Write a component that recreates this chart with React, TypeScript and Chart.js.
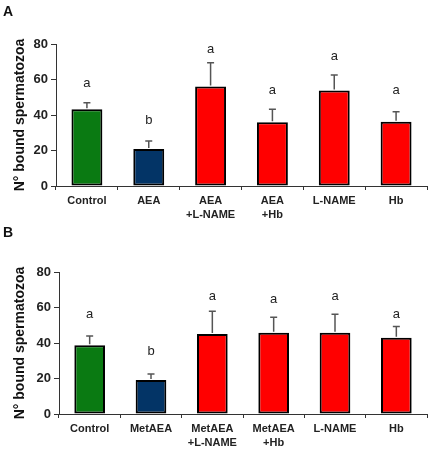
import React, { useEffect, useRef } from "react";
import { Chart, registerables } from "chart.js";

Chart.register(...registerables);

const categoriesA: (string | string[])[] = ["Control", "AEA", ["AEA", "+L-NAME"], ["AEA", "+Hb"], "L-NAME", "Hb"];
const valuesA = [43.3, 20.9, 56.0, 35.9, 53.8, 36.2];
const errorsA = [46.9, 25.4, 69.5, 43.2, 62.6, 41.9];
const lettersA = ["a", "b", "a", "a", "a", "a"];
const letterYA = [58, 37, 77, 54, 73, 54];

const categoriesB: (string | string[])[] = ["Control", "MetAEA", ["MetAEA", "+L-NAME"], ["MetAEA", "+Hb"], "L-NAME", "Hb"];
const valuesB = [38.8, 19.1, 45.1, 45.8, 45.8, 43.0];
const errorsB = [44.0, 22.5, 57.9, 54.5, 56.2, 49.3];
const lettersB = ["a", "b", "a", "a", "a", "a"];
const letterYB = [56, 35, 66, 64.7, 66, 56];

const barColors = ["#0a7a12", "#033466", "#ff0000", "#ff0000", "#ff0000", "#ff0000"];
const yTicks = [0, 20, 40, 60, 80];
const yTitle = "N° bound spermatozoa";

type PanelProps = {
  labels: (string | string[])[];
  values: number[];
  errors: number[];
  letters: string[];
  letterY: number[];
  top: number;
  leftWidth: number;
  bottomHeight: number;
};

function Panel({ labels, values, errors, letters, letterY, top, leftWidth, bottomHeight }: PanelProps) {
  const ref = useRef<HTMLCanvasElement | null>(null);
  useEffect(() => {
    if (!ref.current) return;
    const overlay = {
      id: "errLetters",
      afterDatasetsDraw(chart: any) {
        const ctx = chart.ctx;
        const meta = chart.getDatasetMeta(0);
        const ys = chart.scales.y;
        ctx.save();
        meta.data.forEach((bar: any, i: number) => {
          const x = bar.x;
          const yTop = ys.getPixelForValue(errors[i]);
          const yBar = ys.getPixelForValue(values[i]);
          ctx.strokeStyle = "#555555";
          ctx.lineWidth = 1.5;
          ctx.beginPath();
          ctx.moveTo(x, yBar - 1);
          ctx.lineTo(x, yTop);
          ctx.moveTo(x - 3.5, yTop);
          ctx.lineTo(x + 3.5, yTop);
          ctx.stroke();
          ctx.fillStyle = "#222222";
          ctx.font = "13px Arial, 'Liberation Sans', sans-serif";
          ctx.textAlign = "center";
          ctx.textBaseline = "middle";
          ctx.fillText(letters[i], x, ys.getPixelForValue(letterY[i]));
        });
        ctx.restore();
      },
    };
    const chart = new Chart(ref.current, {
      type: "bar",
      data: {
        labels,
        datasets: [
          {
            data: values,
            backgroundColor: barColors,
            borderColor: "#000000",
            borderWidth: 2,
            borderSkipped: false,
            barPercentage: 0.5,
            categoryPercentage: 1,
          },
        ],
      },
      options: {
        animation: false,
        responsive: false,
        maintainAspectRatio: false,
        layout: { padding: { top: top, right: 4, left: 0, bottom: 0 } },
        plugins: { legend: { display: false }, tooltip: { enabled: false }, title: { display: false } },
        scales: {
          x: {
            grid: { display: true, drawOnChartArea: false, drawTicks: true, tickLength: 4, color: "#333333", offset: true },
            border: { display: true, color: "#333333", width: 1 },
            ticks: {
              color: "#222222",
              font: { family: "Arial, 'Liberation Sans', sans-serif", size: 11, weight: "bold", lineHeight: 1.25 },
              padding: 4,
              maxRotation: 0,
              autoSkip: false,
            },
            afterFit(scale: any) {
              scale.height = bottomHeight;
            },
          },
          y: {
            min: 0,
            max: 80,
            afterBuildTicks(scale: any) {
              scale.ticks = yTicks.map((v) => ({ value: v }));
            },
            grid: { display: true, drawOnChartArea: false, drawTicks: true, tickLength: 5, color: "#333333" },
            border: { display: true, color: "#333333", width: 1 },
            ticks: {
              color: "#222222",
              font: { family: "Arial, 'Liberation Sans', sans-serif", size: 13, weight: "bold" },
              padding: 3,
            },
            title: {
              display: true,
              text: yTitle,
              color: "#111111",
              font: { family: "Arial, 'Liberation Sans', sans-serif", size: 14, weight: "bold" },
              padding: { top: 12, bottom: 0 },
            },
            afterFit(scale: any) {
              scale.width = leftWidth;
            },
          },
        },
      },
      plugins: [overlay],
    });
    return () => chart.destroy();
  }, []);
  return <canvas ref={ref} width={431} height={225} style={{ display: "block", width: 431, height: 225 }} />;
}

export default function App() {
  const letterStyle: React.CSSProperties = {
    position: "absolute",
    left: 3,
    fontFamily: "Arial, 'Liberation Sans', sans-serif",
    fontWeight: "bold",
    fontSize: 14,
    lineHeight: "14px",
    color: "#111",
  };
  return (
    <div style={{ position: "absolute", left: 0, top: 0, width: 431, height: 450, background: "#fff" }}>
      <div style={{ position: "absolute", left: 0, top: 0 }}>
        <Panel labels={categoriesA} values={valuesA} errors={errorsA} letters={lettersA} letterY={letterYA} top={44} leftWidth={56} bottomHeight={39} />
      </div>
      <div style={{ position: "absolute", left: 0, top: 225 }}>
        <Panel labels={categoriesB} values={valuesB} errors={errorsB} letters={lettersB} letterY={letterYB} top={47} leftWidth={59} bottomHeight={36} />
      </div>
      <div style={{ ...letterStyle, top: 4 }}>A</div>
      <div style={{ ...letterStyle, top: 225 }}>B</div>
    </div>
  );
}
